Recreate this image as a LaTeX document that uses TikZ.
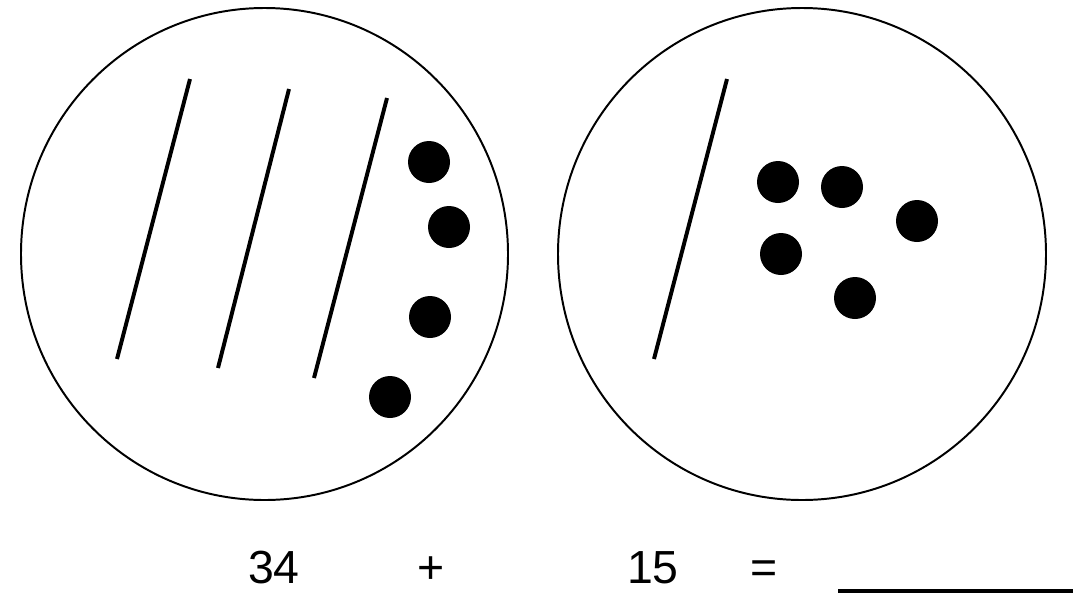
\documentclass[tikz,border=0pt]{standalone}
\usepackage{fontspec}
\setmainfont{Liberation Sans}
\usetikzlibrary{positioning}

\begin{document}
\begin{tikzpicture}[
    x=0.025cm, y=-0.025cm,
    ring/.style={draw, line width=1.4pt},
    ten/.style={line width=2.8pt},
    one/.style={fill=black},
    num/.style={anchor=base, inner sep=0pt, font=\fontsize{33}{38}\selectfont}
]
    \useasboundingbox (0,0) rectangle (1087,594);

    % Left circle: 34
    \draw[ring] (264.5,254) ellipse (243.5 and 246);
    \draw[ten] (190,79) -- (117,359);
    \draw[ten] (289,89) -- (218,368);
    \draw[ten] (387,98) -- (314,378);
    \fill[one] (429,162) circle (21);
    \fill[one] (449,227) circle (21);
    \fill[one] (430,317) circle (21);
    \fill[one] (390,397) circle (21);

    % Right circle: 15
    \draw[ring] (802,254) ellipse (244 and 246);
    \draw[ten] (727,79) -- (654,359);
    \fill[one] (778,182) circle (21);
    \fill[one] (842,187) circle (21);
    \fill[one] (917,221) circle (21);
    \fill[one] (781,254) circle (21);
    \fill[one] (855,298) circle (21);

    % Sum
    \node[num] (a) at (274,583) {34};
    \node[num] (plus) at (431,583) {+};
    \node[num] (b) at (653,583) {15};
    \node[num] (eq) at (764,583) {=};
    \coordinate (blankl) at (838,591);
    \coordinate (blankr) at (1073,591);
    \draw[line width=2.2pt] (blankl) -- (blankr);
\end{tikzpicture}
\end{document}
